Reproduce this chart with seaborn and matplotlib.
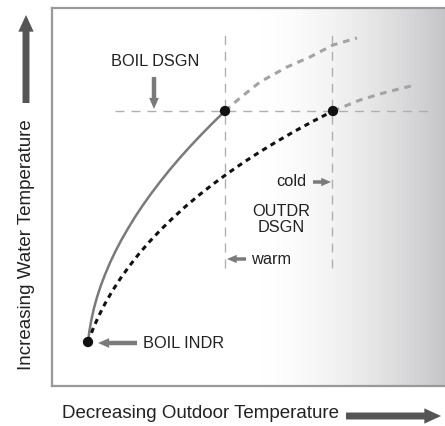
import numpy as np
import pandas as pd
import matplotlib
matplotlib.use("Agg")
import matplotlib.pyplot as plt
from matplotlib.colors import LinearSegmentedColormap
import seaborn as sns

sns.set_theme(style="white")
plt.rcParams['font.family'] = ['Liberation Sans', 'DejaVu Sans']

# Curve data (arbitrary units: x = outdoor-temperature decrease, y = water temperature)
boiler_x = [36, 37.4, 39.4, 41.9, 45, 48.7, 53, 57.8, 63.2, 69.2, 75.8, 82.9, 90.6,
            98.9, 107.8, 117.2, 127.2, 137.8, 149, 160.7, 173]
boiler_y = [44, 55.1, 66.3, 77.5, 88.8, 100.1, 111.4, 122.8, 134.2, 145.7, 157.2, 168.8,
            180.4, 192.1, 203.8, 215.6, 227.4, 239.2, 251.1, 263.0, 275]
boiler_ext_x = [173, 188, 208, 235, 258, 281, 305]
boiler_ext_y = [275, 288, 304, 319, 329, 341, 348]
outdoor_x = [36, 41, 46.7, 53.2, 60.5, 68.6, 77.4, 86.9, 97.3, 108.4, 120.3, 132.9,
             146.3, 160.4, 175.4, 191.1, 207.5, 224.7, 242.7, 261.5, 281]
outdoor_y = [44, 57.1, 70, 82.7, 95.3, 107.8, 120, 132.1, 144.1, 155.9, 167.5, 179,
             190.3, 201.4, 212.4, 223.3, 233.9, 244.4, 254.8, 265, 275]
outdoor_ext_x = [281, 308, 335, 363]
outdoor_ext_y = [275, 286, 294, 301]
point_x = [36, 173, 281]
point_y = [44, 275, 275]
design_line_y = 275
warm_x = 173
cold_x = 280

fig = plt.figure(figsize=(4.45, 4.26), dpi=100)
ax = fig.add_axes([52/445, 40/426, 1 - 52/445, 378/426])
ax.set_xlim(0, 393)
ax.set_ylim(0, 378)

# gradient background
g = np.linspace(0, 1, 400)
shade = np.clip((g - 0.52) / 0.48, 0, 1) ** 1.7
cmap = LinearSegmentedColormap.from_list("g", ["#ffffff", "#c6c6c8"])
ax.imshow(shade[None, :], extent=[0, 393, 0, 378], aspect="auto", cmap=cmap,
          vmin=0, vmax=1, zorder=0, origin="lower")

# reference dashed lines
ax.plot([63, 376], [design_line_y, design_line_y], color="#b0b0b0", lw=1.0,
        dashes=(6.5, 5), zorder=1)
for xv in (warm_x, cold_x):
    ax.plot([xv, xv], [118, 356], color="#b0b0b0", lw=1.0, dashes=(6.5, 5), zorder=1)

sns.lineplot(x=boiler_x, y=boiler_y, ax=ax, color="#7a7a7a", lw=1.8, sort=False,
             estimator=None, zorder=3)
sns.lineplot(x=boiler_ext_x, y=boiler_ext_y, ax=ax, color="#a3a3a3", lw=2.2,
             sort=False, estimator=None, zorder=3).lines[-1].set_dashes((2.2, 1.9))
sns.lineplot(x=outdoor_x, y=outdoor_y, ax=ax, color="#111111", lw=2.2, sort=False,
             estimator=None, zorder=3).lines[-1].set_dashes((1.7, 1.5))
sns.lineplot(x=outdoor_ext_x, y=outdoor_ext_y, ax=ax, color="#a3a3a3", lw=2.2,
             sort=False, estimator=None, zorder=3).lines[-1].set_dashes((2.2, 1.9))
sns.scatterplot(x=point_x, y=point_y, ax=ax, color="#111111", s=55, zorder=5,
                edgecolor="none")

small = dict(arrowstyle="simple,head_length=0.8,head_width=0.7,tail_width=0.32",
             color="#7a7a7a", mutation_scale=10, shrinkA=0, shrinkB=0, lw=0)
smaller = dict(small, arrowstyle="simple,head_length=0.7,head_width=0.6,tail_width=0.25")
fs = 11.8
tc = "#222222"
ax.text(103, 325, "BOIL DSGN", fontsize=fs, ha="center", va="center", color=tc)
ax.annotate("", xy=(102, 277), xytext=(102, 309), arrowprops=small)
ax.text(91, 43, "BOIL INDR", fontsize=fs, ha="left", va="center", color=tc)
ax.annotate("", xy=(46, 43), xytext=(85, 43), arrowprops=small)
ax.text(254, 204, "cold", fontsize=fs, ha="right", va="center", color=tc)
ax.annotate("", xy=(279, 204), xytext=(261, 204), arrowprops=smaller)
ax.text(229, 174, "OUTDR", fontsize=fs, ha="center", va="center", color=tc)
ax.text(229, 159, "DSGN", fontsize=fs, ha="center", va="center", color=tc)
ax.text(199, 127, "warm", fontsize=fs, ha="left", va="center", color=tc)
ax.annotate("", xy=(175, 127), xytext=(194, 127), arrowprops=smaller)

ax.set_xticks([])
ax.set_yticks([])
ax.set_xlabel("")
ax.set_ylabel("")
for side in ("left", "top", "bottom"):
    ax.spines[side].set_color("#999999")
    ax.spines[side].set_linewidth(1.6)
ax.spines["right"].set_visible(False)

# axis titles with arrows
big = dict(arrowstyle="simple,head_length=0.6,head_width=0.55,tail_width=0.25",
           color="#555555", mutation_scale=20, shrinkA=0, shrinkB=0, lw=0)
fig.text(200/445, 1 - 414/426, "Decreasing Outdoor Temperature", fontsize=13.5,
         ha="center", va="center", color=tc)
fig.text(27/445, 1 - 245/426, "Increasing Water Temperature", fontsize=13.5,
         rotation=90, ha="center", va="center", color=tc)
fig_ax = fig.add_axes([0, 0, 1, 1], facecolor="none")
fig_ax.set_xlim(0, 445)
fig_ax.set_ylim(426, 0)
fig_ax.axis("off")
fig_ax.annotate("", xy=(441, 416), xytext=(346, 416), arrowprops=big)
fig_ax.annotate("", xy=(26, 15), xytext=(26, 103), arrowprops=big)

fig.savefig("out.png", dpi=100)
